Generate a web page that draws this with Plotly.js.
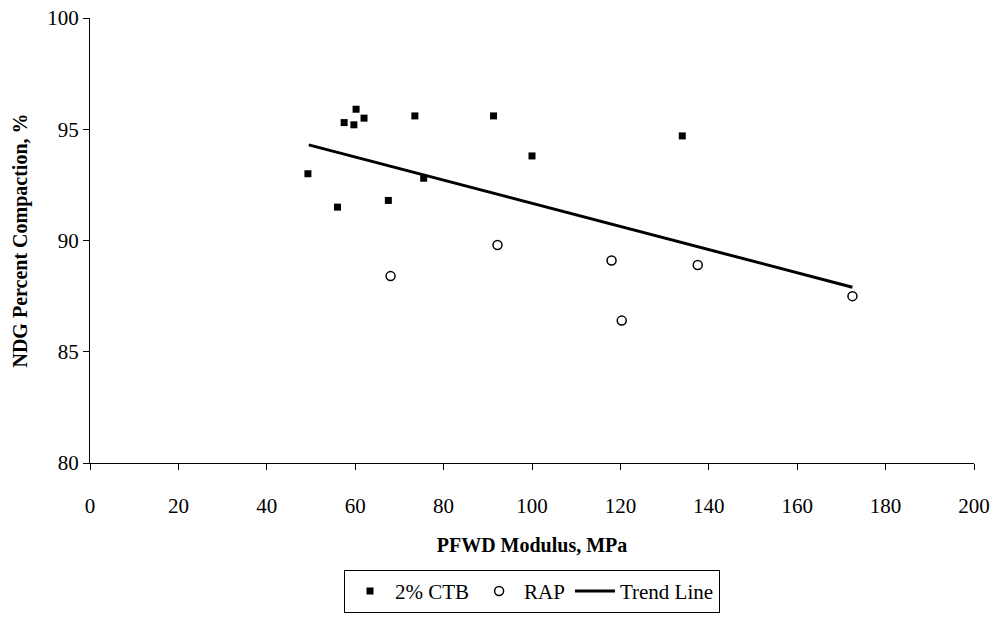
<!DOCTYPE html>
<html>
<head>
<script src="https://cdn.plot.ly/plotly-3.0.1.min.js"></script>
<style>body{margin:0;background:#fff}</style>
</head>
<body>
<div id="chart" style="width:998px;height:625px"></div>
<script>
var ctbX = [49.3, 56, 57.5, 59.7, 60.2, 62, 67.5, 73.5, 75.5, 91.3, 100, 134];
var ctbY = [93.0, 91.5, 95.3, 95.2, 95.9, 95.5, 91.8, 95.6, 92.8, 95.6, 93.8, 94.7];
var rapX = [68, 92.2, 118, 120.3, 137.5, 172.5];
var rapY = [88.4, 89.8, 89.1, 86.4, 88.9, 87.5];
var trendX = [49.5, 172.5];
var trendY = [94.3, 87.9];

var data = [
  {x: ctbX, y: ctbY, name: '2% CTB', mode: 'markers', type: 'scatter',
   marker: {symbol: 'square', size: 7, color: '#000'}},
  {x: rapX, y: rapY, name: 'RAP', mode: 'markers', type: 'scatter',
   marker: {symbol: 'circle-open', size: 9, color: '#000', line: {width: 1.5}}},
  {x: trendX, y: trendY, name: 'Trend Line', mode: 'lines', type: 'scatter',
   line: {color: '#000', width: 3}}
];

var layout = {
  width: 998, height: 625,
  paper_bgcolor: '#fff', plot_bgcolor: '#fff',
  font: {family: 'Liberation Serif, Times New Roman, serif', size: 21, color: '#000'},
  margin: {l: 90, r: 24, t: 18, b: 160},
  showlegend: true,
  legend: {orientation: 'h', x: 0.5, xanchor: 'center', y: -0.24, yanchor: 'top',
    bordercolor: '#000', borderwidth: 1, font: {size: 21}, itemwidth: 40},
  xaxis: {range: [0, 200], dtick: 20, showline: true, linecolor: '#000', linewidth: 1,
    ticks: 'outside', ticklen: 6, tickcolor: '#000', showgrid: false, zeroline: false,
    ticklabelstandoff: 18,
    title: {text: '<b>PFWD Modulus, MPa</b>', font: {size: 20}, standoff: 20}},
  yaxis: {range: [80, 100], dtick: 5, showline: true, linecolor: '#000', linewidth: 1,
    ticks: 'outside', ticklen: 6, tickcolor: '#000', showgrid: false, zeroline: false,
    title: {text: '<b>NDG Percent Compaction, %</b>', font: {size: 20}, standoff: 14}}
};

Plotly.newPlot('chart', data, layout, {displayModeBar: false});
</script>
</body>
</html>
